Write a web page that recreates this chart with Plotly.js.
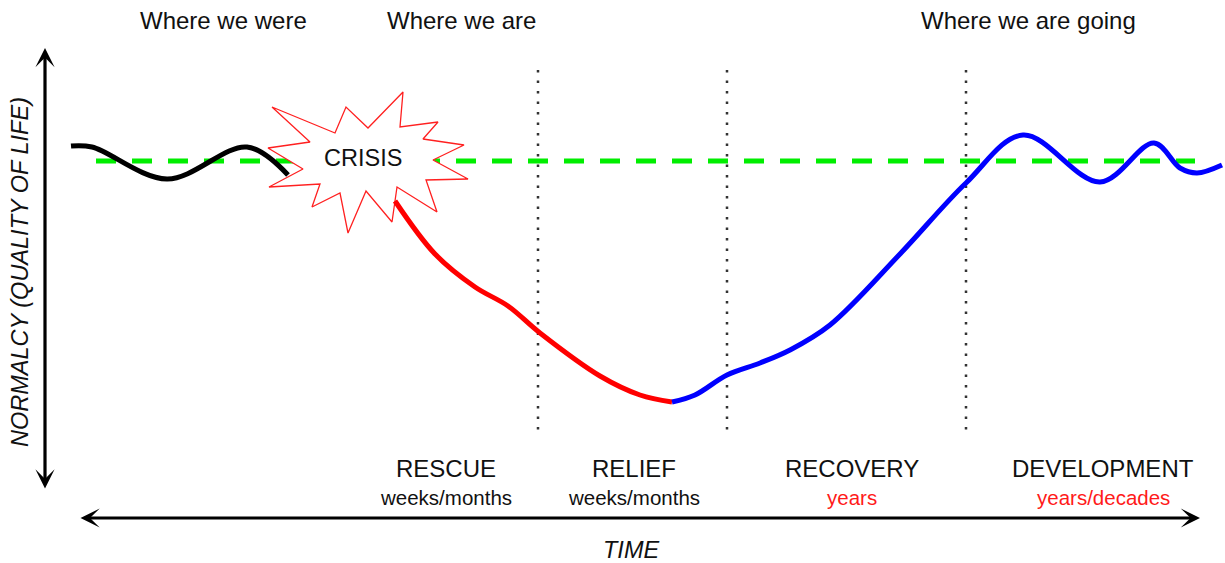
<!DOCTYPE html>
<html>
<head>
<meta charset="utf-8">
<script src="https://cdn.plot.ly/plotly-3.0.1.min.js"></script>
<style>html,body{margin:0;padding:0;background:#fff;}#chart{width:1225px;height:563px;}</style>
</head>
<body>
<div id="chart"></div>
<script>
// ---- Data (time on x, normalcy on y; y grows downward like the drawing) ----
const normalLevel = 161;
const normalStart = 96;
const normalEnd = 1195;

const pastTime = [71, 92, 167, 247, 288];
const pastNormalcy = [146, 147, 179, 147, 175];

const declineTime = [395, 435, 475, 508, 540, 600, 640, 672];
const declineNormalcy = [201, 254, 287, 306, 333, 376, 395, 402];

const recoveryTime = [672, 695, 727, 760, 790, 830, 900, 966, 1023, 1100, 1154, 1180, 1197, 1222];
const recoveryNormalcy = [402, 395, 375, 363, 350, 325, 254, 183, 135, 182, 143, 168, 173, 165];

const crisisX = [272, 335, 346, 368, 403, 400, 438, 423, 464, 433, 468, 426, 437, 397, 392, 366, 348, 340, 312, 320, 269, 303, 268, 310, 272];
const crisisY = [107, 133, 107, 128, 92, 127, 122, 139, 145, 160, 179, 180, 212, 187, 222, 191, 233, 193, 207, 184, 187, 169, 148, 142, 107];
const crisisLabel = 'CRISIS';
const crisisLabelPos = [363, 158];

const phaseBounds = [538, 727, 966];
const phaseBoundTop = 70;
const phaseBoundBottom = 437;

const topLabels = ['Where we were', 'Where we are', 'Where we are going'];
const topLabelX = [223, 461, 1028];

const phaseNames = ['RESCUE', 'RELIEF', 'RECOVERY', 'DEVELOPMENT'];
const phaseDurations = ['weeks/months', 'weeks/months', 'years', 'years/decades'];
const phaseCenters = [446, 634, 852, 1103];
const durationColors = ['#111111', '#111111', '#ff1a1a', '#ff1a1a'];

const yAxisTitle = 'NORMALCY (QUALITY OF LIFE)';
const xAxisTitle = 'TIME';

// ---- Traces ----
const FONT = 'Liberation Sans, Arial, sans-serif';
const traces = [];

traces.push({
  x: [normalStart, normalEnd], y: [normalLevel, normalLevel],
  mode: 'lines', line: {color: '#00ee00', width: 5, dash: '20px,16px'}
});

phaseBounds.forEach(b => {
  traces.push({
    x: [b, b], y: [phaseBoundTop, phaseBoundBottom],
    mode: 'lines', line: {color: '#333333', width: 2.5, dash: '2.5px,8px'}
  });
});

traces.push({
  x: pastTime, y: pastNormalcy, mode: 'lines',
  line: {color: '#000000', width: 5, shape: 'spline', smoothing: 1}
});

traces.push({
  x: crisisX, y: crisisY, mode: 'lines', fill: 'toself', fillcolor: '#ffffff',
  line: {color: '#ff2020', width: 1.3}
});

traces.push({
  x: declineTime, y: declineNormalcy, mode: 'lines',
  line: {color: '#ff0000', width: 5, shape: 'spline', smoothing: 1}
});

traces.push({
  x: recoveryTime, y: recoveryNormalcy, mode: 'lines',
  line: {color: '#0000ff', width: 5, shape: 'spline', smoothing: 1}
});

// ---- Annotations ----
const ann = [];
const txt = (x, y, text, size, color, extra) => Object.assign({
  x: x, y: y, xref: 'x', yref: 'y', text: text, showarrow: false,
  font: {family: FONT, size: size, color: color || '#111111'},
  xanchor: 'center', yanchor: 'middle'
}, extra || {});

topLabels.forEach((t, i) => ann.push(txt(topLabelX[i], 20, t, 24)));
phaseNames.forEach((t, i) => ann.push(txt(phaseCenters[i], 468, t, 24)));
phaseDurations.forEach((t, i) => ann.push(txt(phaseCenters[i], 497, t, 20.5, durationColors[i])));
ann.push(txt(crisisLabelPos[0], crisisLabelPos[1], crisisLabel, 23.5));
ann.push(txt(631, 550, '<i>' + xAxisTitle + '</i>', 23.5));
ann.push(txt(20, 272, '<i>' + yAxisTitle + '</i>', 23.5, null, {textangle: -90}));

// axis arrows
ann.push({
  x: 45, y: 48, ax: 45, ay: 490, xref: 'x', yref: 'y', axref: 'x', ayref: 'y',
  text: '', showarrow: true, arrowside: 'end+start', arrowhead: 3, startarrowhead: 3,
  arrowsize: 1, startarrowsize: 1, arrowwidth: 3.2, arrowcolor: '#000'
});
ann.push({
  x: 1200, y: 518, ax: 79, ay: 518, xref: 'x', yref: 'y', axref: 'x', ayref: 'y',
  text: '', showarrow: true, arrowside: 'end+start', arrowhead: 3, startarrowhead: 3,
  arrowsize: 1, startarrowsize: 1, arrowwidth: 3.2, arrowcolor: '#000'
});

const layout = {
  width: 1225, height: 563,
  margin: {l: 0, r: 0, t: 0, b: 0},
  paper_bgcolor: '#ffffff', plot_bgcolor: '#ffffff',
  showlegend: false, hovermode: false,
  xaxis: {range: [0, 1225], visible: false, fixedrange: true},
  yaxis: {range: [563, 0], visible: false, fixedrange: true},
  annotations: ann
};

Plotly.newPlot('chart', traces, layout, {staticPlot: true, displayModeBar: false});
</script>
</body>
</html>
